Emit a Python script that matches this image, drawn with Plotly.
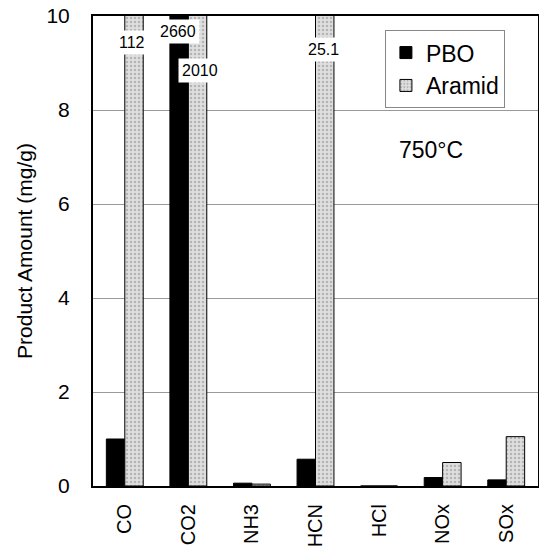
import plotly.graph_objects as go

categories = ["CO", "CO2", "NH3", "HCN", "HCl", "NOx", "SOx"]
pbo = [1.0, 2660, 0.06, 0.57, 0.0, 0.18, 0.13]
aramid = [112, 2010, 0.04, 25.1, 0.0, 0.5, 1.05]
y_ticks = [0, 2, 4, 6, 8, 10]
y_max = 10

FONT = "Liberation Sans, Arial, Helvetica, sans-serif"

fig = go.Figure()
fig.add_trace(go.Bar(
    x=categories, y=pbo, name="PBO",
    marker=dict(color="#000000", line=dict(color="#000000", width=1)),
))
fig.add_trace(go.Bar(
    x=categories, y=aramid, name="Aramid",
    marker=dict(color="#d4d4d4", line=dict(color="#000000", width=1),
                pattern=dict(shape=".", fgcolor="#8a8a8a", bgcolor="#dedede", size=4, solidity=0.3)),
))

# labels for clipped bars (value above axis max)
label_specs = [
    (aramid, 0, 7, 9.43),
    (pbo, 1, -10, 9.66),
    (aramid, 1, 12, 8.85),
    (aramid, 3, 8, 9.28),
]
annotations = []
for vals, i, xs, ypos in label_specs:
    v = vals[i]
    txt = str(int(v)) if float(v).is_integer() else str(v)
    annotations.append(dict(
        x=categories[i], y=ypos, xref="x", yref="y", text=txt, showarrow=False,
        xshift=xs, bgcolor="white", borderpad=3,
        font=dict(family=FONT, size=16, color="black"),
    ))
annotations.append(dict(
    x=0.836, y=0.747, xref="paper", yref="paper", text="750°C", showarrow=False,
    font=dict(family=FONT, size=23, color="black"),
))

fig.update_layout(
    width=539, height=554,
    margin=dict(l=93, r=1, t=16, b=68),
    plot_bgcolor="white", paper_bgcolor="white",
    barmode="group", bargap=0.42, bargroupgap=0,
    font=dict(family=FONT, size=21, color="black"),
    showlegend=True,
    legend=dict(
        x=0.656, y=0.97, xanchor="left", yanchor="top",
        bgcolor="white", bordercolor="#888888", borderwidth=1,
        font=dict(size=23), itemwidth=30, tracegroupgap=0,
    ),
    annotations=annotations,
)
fig.update_xaxes(
    showline=True, linecolor="black", linewidth=2, mirror=True,
    tickangle=-90, ticks="", ticklabelstandoff=8,
    tickfont=dict(size=20), automargin=False,
)
fig.update_yaxes(
    range=[0, y_max], tickvals=y_ticks,
    showline=True, linecolor="black", linewidth=2, mirror=True,
    showgrid=True, gridcolor="#999999", gridwidth=1,
    ticks="", ticklabelstandoff=17, tickfont=dict(size=21),
    zeroline=False, automargin=False,
    title=dict(text="Product Amount (mg/g)", font=dict(size=21), standoff=8),
)

fig.write_html("out.html")
